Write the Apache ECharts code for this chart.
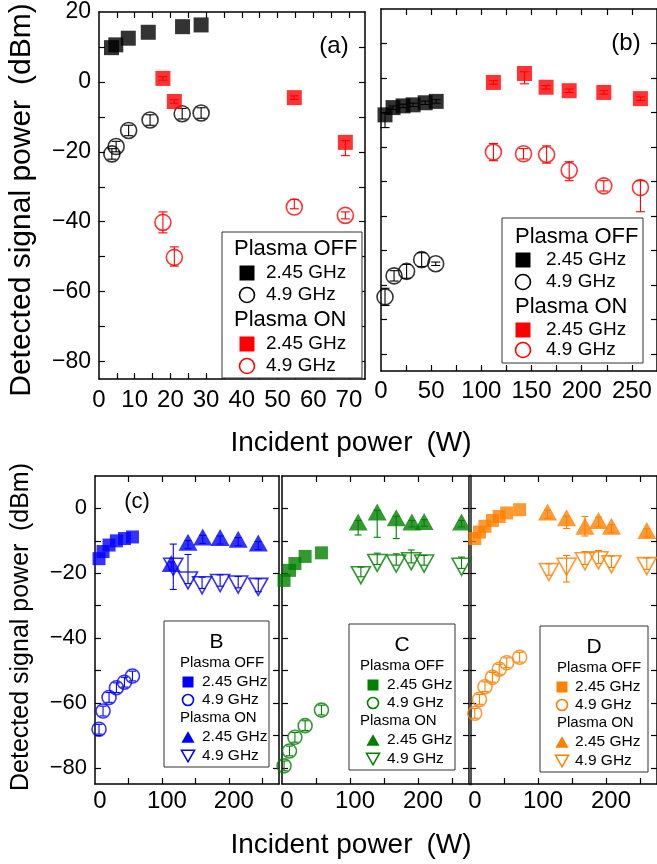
<!DOCTYPE html>
<html><head><meta charset="utf-8">
<script src="https://cdn.jsdelivr.net/npm/echarts@6/dist/echarts.min.js"></script>
<style>html,body{margin:0;padding:0;background:#fff}#c{width:657px;height:864px}</style>
</head><body><div id="c"></div><script>
// ---------- Panel (a) ----------
const aOff245X = [3.5, 4.7, 8.2, 13.8, 23.4, 28.6];
const aOff245Y = [9.8, 10.6, 12.5, 14.2, 15.8, 16.3];
const aOff49X = [3.6, 4.8, 8.3, 14.3, 23.3, 28.6];
const aOff49Y = [-20.6, -18.5, -13.9, -10.9, -9.1, -8.9];
const aOff49Lo = [1.5, 1.5, 1.5, 1.5, 1.5, 1.5];
const aOff49Hi = [1.5, 1.5, 1.5, 1.5, 1.5, 1.5];
const aOn245X = [17.9, 21.1, 54.7, 69.0];
const aOn245Y = [1.0, -5.6, -4.5, -17.3];
const aOn245Lo = [0.5, 0.5, 0.5, 3.8];
const aOn245Hi = [0.5, 0.5, 0.5, 0.5];
const aOn49X = [17.9, 21.1, 54.7, 69.0];
const aOn49Y = [-40.2, -50.2, -35.8, -38.2];
const aOn49Lo = [3, 2.5, 0.5, 1];
const aOn49Hi = [3, 3, 2.2, 1];
// ---------- Panel (b) ----------
const bOff245X = [4, 12, 22, 32, 44, 55];
const bOff245Y = [-10.7, -8.6, -8.1, -7.8, -7.2, -6.8];
const bOff245Lo = [3.7, 0.5, 0.5, 0.5, 0.5, 0.5];
const bOff245Hi = [0.5, 0.5, 0.5, 0.5, 0.5, 0.5];
const bOff49X = [4, 13, 25.5, 40.5, 54.5];
const bOff49Y = [-63.5, -57.4, -56.1, -52.7, -53.9];
const bOff49Lo = [2.5, 1.5, 2, 2, 0.5];
const bOff49Hi = [2.5, 1.5, 2, 2, 0.5];
const bOn245X = [112, 143, 164.5, 187.5, 222, 258.5];
const bOn245Y = [-1.3, 1.3, -2.7, -3.7, -4.2, -6.0];
const bOn245Lo = [0.5, 3, 0.5, 0.5, 0.5, 0.5];
const bOn245Hi = [0.5, 0.5, 0.5, 0.5, 0.5, 0.5];
const bOn49X = [112, 142, 165, 187.5, 222, 258.5];
const bOn49Y = [-21.5, -22.0, -22.2, -26.8, -31.3, -31.8];
const bOn49Lo = [2.5, 1.5, 2.5, 3, 1.5, 7];
const bOn49Hi = [2.5, 1.5, 2.5, 2.5, 1.5, 2];
// ---------- Panel (c) B ----------
const BOff245X = [6, 12, 21, 32, 44, 56];
const BOff245Y = [-15.5, -13.3, -11.3, -10.0, -9.3, -8.8];
const BOff49X = [6, 12, 21, 32, 44, 56];
const BOff49Y = [-68.1, -62.5, -58.3, -55.3, -53.6, -51.7];
const BOff49Err = [1.5, 1.5, 1.5, 1.5, 1.5, 1.5];
const BOn245X = [114, 139, 161, 187, 214, 244];
const BOn245Y = [-17, -10.4, -8.8, -9.0, -9.5, -10.7];
const BOn245Lo = [2, 2, 2, 2, 2, 2];
const BOn245Hi = [0.5, 0.5, 0.5, 0.5, 0.5, 0.5];
const BOn49X = [117, 139, 160, 187, 214, 244];
const BOn49Y = [-18, -22.2, -23.7, -23, -23.5, -24.2];
const BOn49Lo = [7, 1, 1, 1, 1, 1.5];
const BOn49Hi = [7, 8, 2.5, 2.5, 2.5, 2.5];
// ---------- Panel (c) C ----------
const COff245X = [3, 11, 19, 34, 58];
const COff245Y = [-22.2, -19.1, -17, -14.8, -13.7];
const COff49X = [3, 11, 19, 34, 58];
const COff49Y = [-79.4, -74.8, -70.6, -67, -62.2];
const COff49Err = [1.5, 1.5, 1.5, 1.5, 1.5];
const COn245X = [112, 140, 168, 191, 209, 264];
const COn245Y = [-4.2, -1.1, -2.9, -4.2, -4.0, -4.2];
const COn245Lo = [4, 7.8, 6.4, 1.5, 1.5, 1.5];
const COn245Hi = [0.5, 0.5, 0.5, 0.5, 0.5, 0.5];
const COn49X = [116, 140, 168, 190, 209, 264];
const COn49Y = [-20.6, -16.8, -17, -16.3, -17, -18];
const COn49Lo = [0.5, 0.5, 0.5, 0.5, 0.5, 0.5];
const COn49Hi = [2.5, 3, 3, 3.5, 2.5, 3];
// ---------- Panel (c) D ----------
const DOff245X = [7, 14, 22, 33, 43, 54, 73];
const DOff245Y = [-9.3, -7.3, -5.5, -3.7, -2.5, -1.4, -0.4];
const DOff49X = [7, 14, 22, 33, 43, 54, 73];
const DOff49Y = [-63.2, -58.9, -55, -52.1, -49.6, -47.6, -45.9];
const DOff49Err = [1.5, 1.5, 1.5, 1.5, 1.5, 1.5, 1.5];
const DOn245X = [114, 142, 169, 189, 208, 260];
const DOn245Y = [-1.1, -2.9, -5.5, -3.7, -5.5, -6.8];
const DOn245Lo = [2, 3.3, 3, 2, 2, 2];
const DOn245Hi = [0.5, 0.5, 3, 1, 0.5, 0.5];
const DOn49X = [116, 142, 169, 189, 208, 260];
const DOn49Y = [-19.6, -18, -16.3, -16, -17.2, -17.8];
const DOn49Lo = [1, 4.7, 1, 1, 1, 1];
const DOn49Hi = [2.5, 3.5, 3, 3, 2.5, 2.5];
// ---------- ticks ----------
const aXTicks = [5,10,15,20,25,30,35,40,45,50,55,60,65,70];
const aXLabels = [0,10,20,30,40,50,60,70];
const bXTicks = [25,50,75,100,125,150,175,200,225,250];
const bXLabels = [0,50,100,150,200,250];
const topYTicks = [-80,-70,-60,-50,-40,-30,-20,-10,0,10];
const topYLabels = [-80,-60,-40,-20,0,20];
const cXTicks = [50,100,150,200,250];
const cXLabels = [0,100,200];
const cYTicks = [-80,-70,-60,-50,-40,-30,-20,-10,0];
const cYLabels = [-80,-60,-40,-20,0];

const FF = "'Liberation Sans', Arial, sans-serif";
const BLACK='#000000', RED='#ff0000', BLUE='#0000ff', GREEN='#008000', ORANGE='#ff8000';

const grids = [
  {left:99, top:12, width:266, height:367, xmin:0, xmax:74.5, ymin:-85, ymax:20, xt:aXTicks, xl:aXLabels, yt:topYTicks, yl:topYLabels, fsX:24, fsY:23, xMargin:9, xPad:0},
  {left:381, top:9, width:277, height:362, xmin:0, xmax:275, ymin:-85, ymax:20, xt:bXTicks, xl:bXLabels, yt:topYTicks, yl:null, fsX:24, fsY:23, xMargin:8, xPad:0},
  {left:95, top:476, width:184, height:308, xmin:0, xmax:275, ymin:-85, ymax:10, xt:cXTicks, xl:cXLabels, yt:cYTicks, yl:cYLabels, fsX:24, fsY:22, xMargin:5, xPad:[0,0,0,10]},
  {left:282, top:476, width:187, height:308, xmin:0, xmax:275, ymin:-85, ymax:10, xt:cXTicks, xl:cXLabels, yt:cYTicks, yl:null, fsX:24, fsY:22, xMargin:5, xPad:[0,0,0,10]},
  {left:470, top:476, width:188, height:308, xmin:0, xmax:275, ymin:-85, ymax:10, xt:cXTicks, xl:cXLabels, yt:cYTicks, yl:null, fsX:24, fsY:22, xMargin:5, xPad:[0,0,0,10], leftColor:'#555', leftWidth:3}
];

const fmt = v => v < 0 ? '\u2212' + (-v) : String(v);
const xAxes = [], yAxes = [], gridOpts = [];
grids.forEach((g, i) => {
  gridOpts.push({left:g.left, top:g.top, width:g.width, height:g.height, containLabel:false});
  const line = (c, w) => ({show:true, onZero:false, lineStyle:{color:c||'#000', width:w||1.5}});
  const tick = vals => ({show:true, inside:true, length:6, customValues:vals, lineStyle:{color:'#000', width:1.2}});
  xAxes.push({gridIndex:i, type:'value', min:g.xmin, max:g.xmax, position:'bottom', axisLine:line(), axisTick:tick(g.xt),
    axisLabel:{show:true, customValues:g.xl, fontSize:g.fsX, fontFamily:FF, color:'#000', margin:g.xMargin, padding:g.xPad},
    splitLine:{show:false}});
  xAxes.push({gridIndex:i, type:'value', min:g.xmin, max:g.xmax, position:'top', axisLine:line(), axisTick:tick(g.xt),
    axisLabel:{show:false}, splitLine:{show:false}});
  yAxes.push({gridIndex:i, type:'value', min:g.ymin, max:g.ymax, position:'left', axisLine:line(g.leftColor, g.leftWidth), axisTick:tick(g.yt),
    axisLabel: g.yl ? {show:true, customValues:g.yl, formatter:fmt, fontSize:g.fsY, fontFamily:FF, color:'#000', margin:8} : {show:false},
    splitLine:{show:false}});
  yAxes.push({gridIndex:i, type:'value', min:g.ymin, max:g.ymax, position:'right', axisLine:line(), axisTick:tick(g.yt),
    axisLabel:{show:false}, splitLine:{show:false}});
});

const series = [];
function errRender(color, capW) {
  return function (params, api) {
    const x = api.value(0), y = api.value(1), lo = api.value(2), hi = api.value(3);
    const p0 = api.coord([x, y - lo]), p1 = api.coord([x, y + hi]);
    const st = {stroke: color, lineWidth: 1.1, fill: null};
    return {type:'group', children:[
      {type:'line', shape:{x1:p0[0], y1:p0[1], x2:p1[0], y2:p1[1]}, style:st},
      {type:'line', shape:{x1:p0[0]-capW/2, y1:p0[1], x2:p0[0]+capW/2, y2:p0[1]}, style:st},
      {type:'line', shape:{x1:p1[0]-capW/2, y1:p1[1], x2:p1[0]+capW/2, y2:p1[1]}, style:st}
    ]};
  };
}
function add(gi, xs, ys, lo, hi, kind, color, small) {
  if (lo) {
    series.push({type:'custom', xAxisIndex:2*gi, yAxisIndex:2*gi, silent:true, clip:false, z:2,
      renderItem: errRender(color, small ? 7 : 9),
      encode:{x:0, y:1},
      data: xs.map((x, k) => [x, ys[k], lo[k], (hi || lo)[k]])});
  }
  const s = {type:'scatter', xAxisIndex:2*gi, yAxisIndex:2*gi, silent:true, z:3,
    data: xs.map((x, k) => [x, ys[k]]), emphasis:{disabled:true}};
  const sq = small ? 13 : 15, ci = small ? 14 : 16;
  if (kind === 'sq') { s.symbol = 'rect'; s.symbolSize = sq; s.itemStyle = {color:color}; }
  else if (kind === 'ci') { s.symbol = 'circle'; s.symbolSize = ci; s.itemStyle = {color:'rgba(255,255,255,0)', borderColor:color, borderWidth:1.6}; }
  else if (kind === 'tu') { s.symbol = 'triangle'; s.symbolSize = [19, 17]; s.itemStyle = {color:color}; }
  else if (kind === 'td') { s.symbol = 'triangle'; s.symbolRotate = 180; s.symbolSize = [19, 17]; s.itemStyle = {color:'rgba(255,255,255,0)', borderColor:color, borderWidth:1.6}; }
  series.push(s);
}
// (a)
add(0, aOff245X, aOff245Y, null, null, 'sq', BLACK);
add(0, aOff49X, aOff49Y, aOff49Lo, aOff49Hi, 'ci', BLACK);
add(0, aOn245X, aOn245Y, aOn245Lo, aOn245Hi, 'sq', RED);
add(0, aOn49X, aOn49Y, aOn49Lo, aOn49Hi, 'ci', RED);
// (b)
add(1, bOff245X, bOff245Y, bOff245Lo, bOff245Hi, 'sq', BLACK);
add(1, bOff49X, bOff49Y, bOff49Lo, bOff49Hi, 'ci', BLACK);
add(1, bOn245X, bOn245Y, bOn245Lo, bOn245Hi, 'sq', RED);
add(1, bOn49X, bOn49Y, bOn49Lo, bOn49Hi, 'ci', RED);
// (c) B
add(2, BOff245X, BOff245Y, null, null, 'sq', BLUE, true);
add(2, BOff49X, BOff49Y, BOff49Err, BOff49Err, 'ci', BLUE, true);
add(2, BOn245X, BOn245Y, BOn245Lo, BOn245Hi, 'tu', BLUE, true);
add(2, BOn49X, BOn49Y, BOn49Lo, BOn49Hi, 'td', BLUE, true);
// (c) C
add(3, COff245X, COff245Y, null, null, 'sq', GREEN, true);
add(3, COff49X, COff49Y, COff49Err, COff49Err, 'ci', GREEN, true);
add(3, COn245X, COn245Y, COn245Lo, COn245Hi, 'tu', GREEN, true);
add(3, COn49X, COn49Y, COn49Lo, COn49Hi, 'td', GREEN, true);
// (c) D
add(4, DOff245X, DOff245Y, null, null, 'sq', ORANGE, true);
add(4, DOff49X, DOff49Y, DOff49Err, DOff49Err, 'ci', ORANGE, true);
add(4, DOn245X, DOn245Y, DOn245Lo, DOn245Hi, 'tu', ORANGE, true);
add(4, DOn49X, DOn49Y, DOn49Lo, DOn49Hi, 'td', ORANGE, true);

// ---------- legends & texts (graphic) ----------
const graphics = [];
function txt(x, y, text, size, align, extra) {
  const o = {type:'text', x:x, y:y, silent:true, z:20,
    style:{text:text, fontSize:size, fontFamily:FF, fill:'#000', align:align||'left', verticalAlign:'middle'}};
  return Object.assign(o, extra || {});
}
function marker(kind, cx, cy, s, color) {
  if (kind === 'sq') return {type:'rect', silent:true, z:20, shape:{x:cx-s/2, y:cy-s/2, width:s, height:s}, style:{fill:color}};
  if (kind === 'ci') return {type:'circle', silent:true, z:20, shape:{cx:cx, cy:cy, r:s/2}, style:{fill:'none', stroke:color, lineWidth:1.6}};
  const w = s * 1.2, h = s * 1.05;
  if (kind === 'tu') return {type:'polygon', silent:true, z:20, shape:{points:[[cx, cy-h/2], [cx+w/2, cy+h/2], [cx-w/2, cy+h/2]]}, style:{fill:color}};
  return {type:'polygon', silent:true, z:20, shape:{points:[[cx, cy+h/2], [cx+w/2, cy-h/2], [cx-w/2, cy-h/2]]}, style:{fill:'none', stroke:color, lineWidth:1.5}};
}
function legend(c) {
  graphics.push({type:'rect', silent:true, z:19, shape:{x:c.x, y:c.y, width:c.w, height:c.h}, style:{fill:'#fff', stroke:'#333', lineWidth:1}});
  if (c.title) graphics.push(txt(c.titleX, c.titleY, c.title, c.titleSize, 'center'));
  c.rows.forEach(r => {
    if (r.head) graphics.push(txt(c.headX, r.y, r.head, c.headSize));
    else { graphics.push(marker(r.m, c.mkX, r.y, c.mkSize, r.color)); graphics.push(txt(c.txtX, r.y, r.text, c.txtSize)); }
  });
}
legend({x:222, y:232, w:140, h:146, headX:234, headSize:22, mkX:247, txtX:266, txtSize:19, mkSize:15,
  rows:[{head:'Plasma OFF', y:249}, {m:'sq', color:BLACK, text:'2.45 GHz', y:273}, {m:'ci', color:BLACK, text:'4.9 GHz', y:295},
        {head:'Plasma ON', y:320}, {m:'sq', color:RED, text:'2.45 GHz', y:344}, {m:'ci', color:RED, text:'4.9 GHz', y:366}]});
legend({x:502, y:218, w:141, h:145, headX:515, headSize:22, mkX:523, txtX:546, txtSize:19, mkSize:15,
  rows:[{head:'Plasma OFF', y:237}, {m:'sq', color:BLACK, text:'2.45 GHz', y:260}, {m:'ci', color:BLACK, text:'4.9 GHz', y:282},
        {head:'Plasma ON', y:307}, {m:'sq', color:RED, text:'2.45 GHz', y:330}, {m:'ci', color:RED, text:'4.9 GHz', y:350}]});
function cLegend(x, w, title, color, headX, mkX, txtX, y0) {
  legend({x:x, y:y0, w:w, h:146, title:title, titleX:x + w/2, titleY:y0 + 21, titleSize:21, headX:headX, headSize:15, mkX:mkX, txtX:txtX, txtSize:15.5, mkSize:11,
    rows:[{head:'Plasma OFF', y:y0+42}, {m:'sq', color:color, text:'2.45 GHz', y:y0+61}, {m:'ci', color:color, text:'4.9 GHz', y:y0+79},
          {head:'Plasma ON', y:y0+97}, {m:'tu', color:color, text:'2.45 GHz', y:y0+116}, {m:'td', color:color, text:'4.9 GHz', y:y0+135}]});
}
cLegend(164, 105, 'B', BLUE, 180, 188, 202, 621);
cLegend(349, 106, 'C', GREEN, 360, 373, 387, 624);
cLegend(540, 108, 'D', ORANGE, 557, 562, 575, 626);

graphics.push(txt(334, 46, '(a)', 24, 'center'));
graphics.push(txt(626, 43, '(b)', 24, 'center'));
graphics.push(txt(137, 502, '(c)', 22, 'center'));
graphics.push(txt(351, 443, 'Incident power\u2002(W)', 28, 'center'));
graphics.push(txt(351, 845, 'Incident power\u2002(W)', 28, 'center'));
graphics.push(txt(22, 200, 'Detected signal power\u2002(dBm)', 30, 'center', {rotation:Math.PI/2}));
graphics.push(txt(21, 627, 'Detected signal power\u2002(dBm)', 25, 'center', {rotation:Math.PI/2}));

const chart = echarts.init(document.getElementById('c'), null, {renderer:'canvas'});
chart.setOption({
  animation:false,
  backgroundColor:'#fff',
  grid:gridOpts, xAxis:xAxes, yAxis:yAxes, series:series,
  graphic:{elements:graphics}
});
</script></body></html>
